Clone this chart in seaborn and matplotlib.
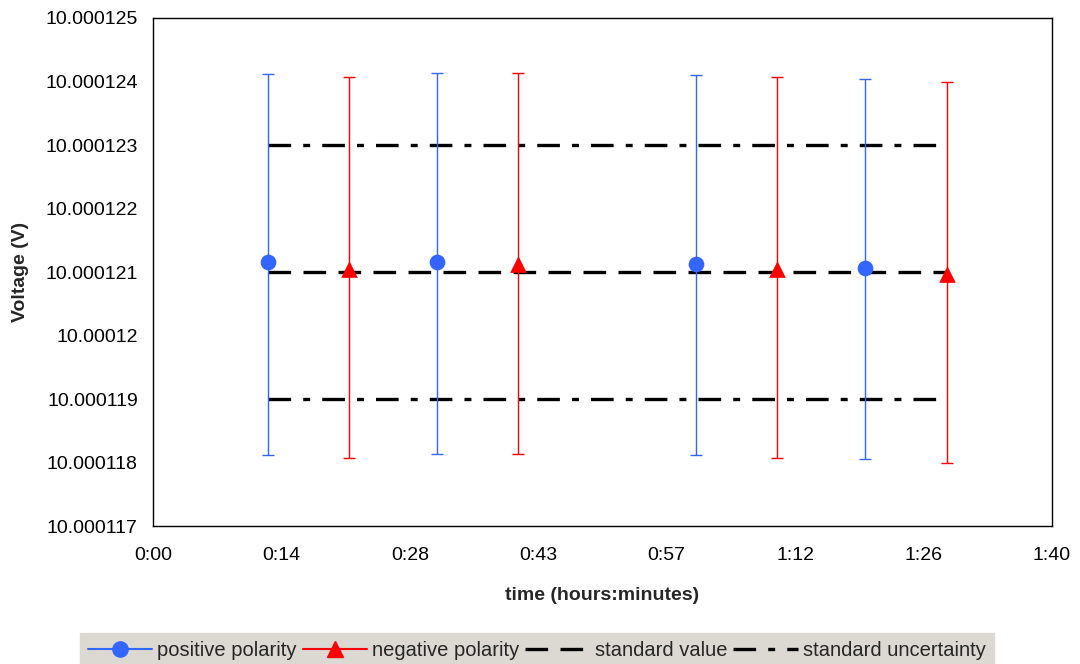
import matplotlib
matplotlib.use("Agg")
import matplotlib.pyplot as plt
from matplotlib.lines import Line2D
import numpy as np
import pandas as pd
import seaborn as sns

# time in minutes since start
pos_time = [12.8, 31.6, 60.4, 79.2]
neg_time = [21.8, 40.6, 69.4, 88.3]

# measured voltage (V) and error bar limits
pos_volt = [10.00012115, 10.00012115, 10.00012112, 10.00012107]
pos_upper = [10.00012412, 10.00012414, 10.00012411, 10.00012404]
pos_lower = [10.00011812, 10.00011814, 10.00011812, 10.00011805]

neg_volt = [10.00012104, 10.00012112, 10.00012105, 10.00012097]
neg_upper = [10.00012407, 10.00012414, 10.00012407, 10.00012399]
neg_lower = [10.00011807, 10.00011814, 10.00011807, 10.00011799]

std_value = 10.000121
std_unc_hi = 10.000123
std_unc_lo = 10.000119

x_ticks = [0, 14.29, 28.57, 42.86, 57.14, 71.43, 85.71, 100]
x_labels = ["0:00", "0:14", "0:28", "0:43", "0:57", "1:12", "1:26", "1:40"]
y_ticks = [10.000117, 10.000118, 10.000119, 10.00012, 10.000121,
           10.000122, 10.000123, 10.000124, 10.000125]
y_labels = ["10.000117", "10.000118", "10.000119", "10.00012", "10.000121",
            "10.000122", "10.000123", "10.000124", "10.000125"]

BLUE = "#3366FF"
RED = "#FF0000"
FS = 14
DASH = (0, (16.3, 8.9))
DASHDOT = (0, (16.3, 8.7, 5, 8.7))

sns.set_style("white")
plt.rcParams["font.family"] = ["Liberation Sans", "DejaVu Sans"]
plt.rcParams["lines.scale_dashes"] = False

fig = plt.figure(figsize=(10.8, 6.64), dpi=100)
ax = fig.add_axes([0.1417, 0.2078, 0.974 - 0.1417, 0.9729 - 0.2078])

df_pos = pd.DataFrame({"time": pos_time, "volt": pos_volt})
df_neg = pd.DataFrame({"time": neg_time, "volt": neg_volt})

# reference lines
x_span = [pos_time[0], neg_time[-1]]
ax.plot(x_span, [std_value, std_value], color="black", lw=2.4,
        linestyle=DASH, zorder=2)
for yv in (std_unc_hi, std_unc_lo):
    ax.plot(x_span, [yv, yv], color="black", lw=2.4, linestyle=DASHDOT, zorder=2)

# error bars
pos_err = [np.array(pos_volt) - np.array(pos_lower), np.array(pos_upper) - np.array(pos_volt)]
neg_err = [np.array(neg_volt) - np.array(neg_lower), np.array(neg_upper) - np.array(neg_volt)]
ax.errorbar(pos_time, pos_volt, yerr=pos_err, fmt="none", ecolor=BLUE,
            elinewidth=1.0, capsize=4.4, capthick=1.0, zorder=3)
ax.errorbar(neg_time, neg_volt, yerr=neg_err, fmt="none", ecolor=RED,
            elinewidth=1.0, capsize=4.4, capthick=1.0, zorder=3)

# markers
sns.scatterplot(data=df_pos, x="time", y="volt", ax=ax, marker="o", s=11.3 ** 2,
                color=BLUE, edgecolor=BLUE, linewidth=0, zorder=4, legend=False)
sns.scatterplot(data=df_neg, x="time", y="volt", ax=ax, marker="^", s=12 ** 2,
                color=RED, edgecolor=RED, linewidth=0, zorder=4, legend=False)

ax.set_xlim(0, 100)
ax.set_ylim(10.000117, 10.000125)
ax.set_xticks(x_ticks)
ax.set_xticklabels(x_labels)
ax.set_yticks(y_ticks)
ax.set_yticklabels(y_labels)
ax.tick_params(axis="both", direction="out", length=5, width=1, colors="black",
               labelsize=FS, pad=6)
ax.tick_params(axis="x", pad=10)
for sp in ax.spines.values():
    sp.set_visible(True)
    sp.set_color("black")
    sp.set_linewidth(1.0)

ax.set_xlabel("time (hours:minutes)", fontsize=FS, fontweight="bold", labelpad=17)
ax.set_ylabel("Voltage (V)", fontsize=FS, fontweight="bold", labelpad=12)

handles = [
    Line2D([], [], color=BLUE, lw=1.5, marker="o", markersize=11),
    Line2D([], [], color=RED, lw=1.5, marker="^", markersize=12),
    Line2D([], [], color="black", lw=2.4, linestyle=DASH),
    Line2D([], [], color="black", lw=2.4, linestyle=DASHDOT),
]
labels = ["positive polarity", "negative polarity", "standard value", "standard uncertainty"]
leg = fig.legend(handles, labels, loc="lower center", bbox_to_anchor=(0.497, -0.006),
                 ncol=4, fontsize=14.5, frameon=True, fancybox=False,
                 handlelength=3.2, handletextpad=0.25, columnspacing=0.3,
                 borderpad=0.4, borderaxespad=0)
leg.get_frame().set_facecolor("#DCD9D3")
leg.get_frame().set_edgecolor("#DCD9D3")
leg.get_frame().set_alpha(1)

fig.savefig("out.png", dpi=100)
